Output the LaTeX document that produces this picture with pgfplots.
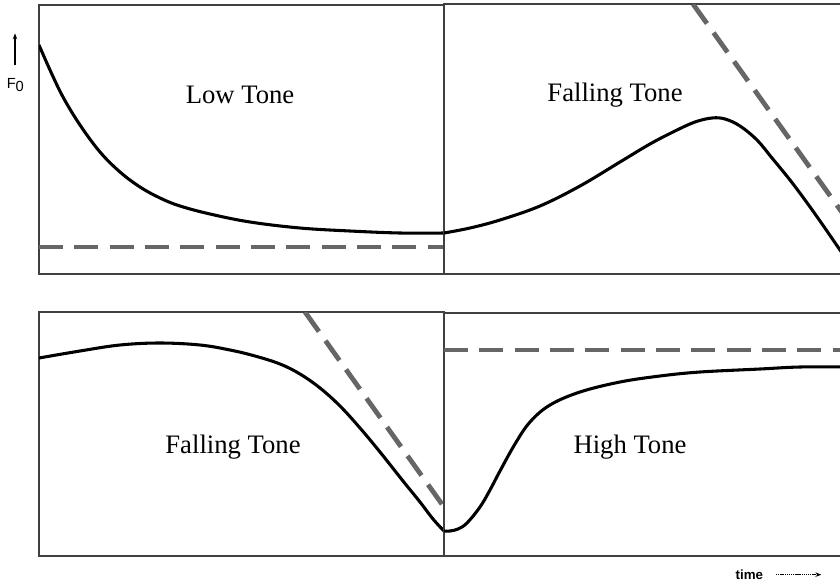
\documentclass[border=0pt]{standalone}
\usepackage{pgfplots}
\pgfplotsset{compat=1.18}
\usetikzlibrary{arrows.meta}
\usepackage{fontspec}
\setmainfont{Liberation Serif}
\setsansfont{Liberation Sans}

% pixel units: 1px = 0.75pt
\pgfplotsset{
  panel/.style={
    x=0.75pt, y=0.75pt, y dir=reverse,
    enlargelimits=false, ticks=none,
    axis line style={black!75, line width=1pt},
    anchor=north west, clip=true,
  },
  contour/.style={black, line width=2.3pt, smooth, tension=0.6, no markers},
  target/.style={black!60, line width=3.6pt, dash pattern=on 18pt off 8.5pt, no markers},
}
\tikzset{lbl/.style={font=\fontsize{20}{24}\selectfont}}

\begin{document}
\begin{tikzpicture}
\useasboundingbox (0,0) rectangle (630pt,-441pt);

% --- top left: Low Tone ---
\begin{axis}[panel, at={(29.25pt,-3.75pt)}, xmin=39, xmax=444, ymin=5, ymax=274]
  \addplot[target] coordinates {(39,247) (444,247)};
  \addplot[contour] coordinates {
    (39,45) (50,70) (63,97) (80,125) (100,152) (120,172) (140,187)
    (160,198) (180,206) (210,214) (250,222) (300,228) (350,231)
    (400,233) (444,233)
  };
  \node[lbl] at (axis cs:240,95) {Low Tone};
\end{axis}

% --- top right: Falling Tone ---
\begin{axis}[panel, at={(333pt,-3pt)}, xmin=444, xmax=846, ymin=4, ymax=274]
  \addplot[target] coordinates {(693,4) (846,218)};
  \addplot[contour] coordinates {
    (444,233) (470,228) (500,220) (540,206) (580,186) (620,162)
    (650,144) (675,131) (695,122) (712,118) (725,119) (740,126)
    (757,140) (772,158) (790,180) (805,200) (820,221) (840,250) (846,259)
  };
  \node[lbl] at (axis cs:615,95) {Falling Tone};
\end{axis}

% --- bottom left: Falling Tone ---
\begin{axis}[panel, at={(29.25pt,-234pt)}, xmin=39, xmax=444, ymin=312, ymax=556]
  \addplot[target] coordinates {(305,312) (444,507)};
  \addplot[contour] coordinates {
    (39,358) (80,351) (120,345) (160,343) (200,345) (230,350)
    (255,356) (280,364) (300,374) (320,388) (340,406) (360,428)
    (380,452) (403,481) (420,502) (433,519) (444,531)
  };
  \node[lbl] at (axis cs:233,447) {Falling Tone};
\end{axis}

% --- bottom right: High Tone ---
\begin{axis}[panel, at={(333pt,-234.75pt)}, xmin=444, xmax=846, ymin=313, ymax=556]
  \addplot[target] coordinates {(444,350) (846,350)};
  \addplot[contour] coordinates {
    (444,531) (450,531) (458,529) (467,523) (480,507) (490,490)
    (500,471) (515,444) (530,422) (550,405) (580,392) (620,382)
    (660,376) (700,372) (760,369) (800,367) (846,367)
  };
  \node[lbl] at (axis cs:630,447) {High Tone};
\end{axis}

% axis captions
\draw[-{Stealth[length=4.5pt]}, line width=0.8pt] (11.25pt,-49pt) -- (11.25pt,-25pt);
\node[font=\sffamily\fontsize{11}{13}\selectfont] at (11.5pt,-63.75pt) {F\raisebox{-0.35ex}{0}};
\node[font=\sffamily\bfseries\fontsize{10}{12}\selectfont] at (562pt,-431pt) {time};
\draw[-{Stealth[length=4.5pt]}, line width=0.6pt, dash pattern=on 1pt off 0.6pt] (582pt,-431pt) -- (616pt,-431pt);
\end{tikzpicture}
\end{document}
